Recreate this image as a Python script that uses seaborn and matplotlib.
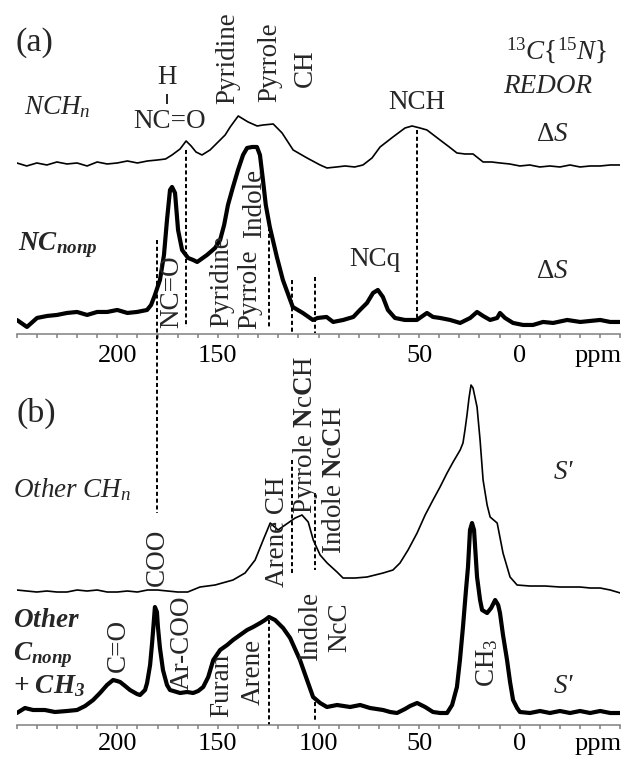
import matplotlib
matplotlib.use("Agg")
import matplotlib.pyplot as plt
from matplotlib.ticker import MultipleLocator
import seaborn as sns

# --- panel (a): 13C{15N} REDOR difference spectra (heights in px above the axis) ---
nchn_ppm = [249.9, 245, 240, 235, 230, 225, 220, 215, 210, 205,
            200, 195, 190, 185, 180, 176, 172.8, 168.8, 165.8, 163.3,
            160.9, 157.9, 153.9, 150.4, 146.4, 143.9, 139.9, 135.0, 130.5, 127.5,
            122.5, 118.1, 112.6, 105.7, 99.2, 95.8, 91, 86.8, 82, 77.9,
            73.4, 69.4, 63.0, 57.0, 53.5, 49.6, 46.1, 39.6, 35, 31.2,
            27.2, 23.2, 18.2, 14, 9.8, 5, -0.1, -5, -10, -15,
            -20, -25, -30, -35, -40, -45, -50]
nchn_int = [171, 168, 171, 169, 172, 170, 171, 168, 172, 170,
            171, 173, 171, 173, 174, 175, 179, 185, 193, 188,
            182, 179, 184, 191, 199, 207, 218, 212, 208, 209,
            210, 201, 184, 176, 169, 166, 167, 168, 167, 169,
            176, 187, 197, 206, 208, 206, 204, 194, 187, 181,
            180, 180, 172, 172, 171, 170, 168, 169, 167, 168,
            167, 169, 167, 168, 168, 169, 169]

ncnonp_ppm = [249.9, 244.9, 239.9, 234.9, 230, 225, 220, 215, 210, 205,
              200, 195, 190.2, 185.2, 183.2, 181.3, 178.8, 176.8, 175.3, 173.8,
              172.8, 171.3, 169.8, 167.8, 164.8, 162.3, 160.3, 155.4, 151.4, 148.9,
              146.9, 145.0, 142.5, 140.0, 137.5, 135.5, 133.0, 130.6, 129.1, 127.6,
              126.2, 124.2, 120.7, 117.7, 112.8, 107.8, 102.8, 100.4, 96, 92.7,
              87.7, 82.7, 79.4, 75.9, 72.9, 70.5, 68.0, 65.5, 62.0, 57.1,
              51.1, 46.1, 43.1, 39.6, 34.6, 29.6, 24.6, 21.2, 18.2, 14.7,
              11.2, 9.8, 7.3, 3.3, -1.7, -6.6, -11.6, -16.6, -23.6, -30.1,
              -35, -40, -45, -50]
ncnonp_int = [14, 7, 16, 18, 19, 21, 22, 19, 22, 22,
              24, 21, 22, 24, 29, 39, 54, 79, 114, 144,
              147, 141, 104, 84, 76, 74, 72, 79, 86, 94,
              109, 129, 147, 164, 179, 186, 187, 187, 179, 154,
              129, 107, 77, 54, 27, 21, 14, 16, 17, 12,
              14, 17, 24, 31, 41, 44, 37, 24, 16, 14,
              14, 21, 17, 16, 14, 11, 16, 22, 18, 14,
              16, 21, 16, 11, 9, 9, 12, 11, 14, 12,
              13, 14, 12, 12]

# --- panel (b): S' spectra ---
chn_ppm = [249.9, 245, 240, 235, 230, 225, 220, 215, 210, 205,
           200, 195, 190, 185, 180, 175, 170, 165, 158.9, 151.4,
           142.5, 136.5, 131.5, 127.5, 124.0, 120.1, 116.6, 111.6, 108.2, 105.1,
           102.6, 99.2, 95.7, 90.8, 87.8, 81.8, 75.9, 67.9, 63.0, 59.5,
           55.5, 51.0, 47.0, 43.1, 39.6, 36.1, 33.1, 29.6, 28.2, 27.2,
           26.2, 25.2, 24.2, 23.2, 21.2, 19.7, 18.2, 16.2, 14.7, 11.2,
           8.3, 4.8, 1.3, -5, -12.6, -20, -23.6, -30, -35, -40,
           -45, -50]
chn_int = [135, 134, 133, 134, 133, 133, 135, 134, 135, 133,
           133, 134, 133, 135, 135, 134, 133, 133, 138, 140,
           145, 152, 165, 185, 202, 195, 200, 207, 210, 203,
           185, 170, 162, 153, 147, 147, 148, 152, 155, 162,
           175, 192, 210, 225, 238, 252, 263, 275, 282, 295,
           310, 327, 340, 337, 318, 285, 245, 220, 208, 202,
           172, 148, 140, 139, 139, 138, 138, 138, 137, 137,
           135, 132]

cnonp_ppm = [249.9, 245.9, 241.9, 236.0, 231.0, 225.0, 220.0, 216.0, 212.0, 208.6,
             205.1, 202.1, 200.1, 198.6, 196.1, 193.7, 190.2, 188.7, 186.2, 185.2,
             183.7, 182.7, 181.8, 181.3, 180.3, 179.8, 178.8, 177.3, 175.3, 173.8,
             168.8, 165.3, 162.3, 159.8, 157.3, 154.8, 152.3, 148.9, 145.4, 142.5,
             139.0, 135.5, 132.5, 129.0, 126.6, 124.6, 121.6, 117.6, 114.1, 109.2,
             105.7, 102.7, 99.2, 95.8, 90.8, 84.3, 79.3, 74.4, 67.9, 64.4,
             61.0, 57.0, 54.5, 51.0, 47.0, 43.1, 39.6, 36.1, 33.6, 31.2,
             29.7, 28.2, 26.7, 25.7, 24.7, 23.7, 22.7, 21.2, 19.7, 18.7,
             16.2, 14.2, 12.2, 10.7, 9.8, 8.3, 6.3, 4.8, 3.3, 1.3,
             -0.1, -5.1, -10.1, -15, -20, -25, -30, -35, -40, -45, -50]
cnonp_int = [12, 17, 15, 15, 13, 14, 15, 19, 25, 32,
             40, 45, 44, 43, 39, 35, 31, 30, 35, 42,
             60, 82, 105, 118, 113, 98, 77, 55, 40, 35,
             32, 33, 32, 34, 38, 48, 65, 75, 80, 85,
             90, 95, 98, 102, 105, 108, 105, 97, 87, 65,
             45, 28, 22, 18, 20, 18, 20, 17, 15, 13,
             12, 16, 19, 22, 18, 13, 12, 12, 20, 38,
             65, 98, 135, 158, 195, 202, 195, 148, 125, 115,
             112, 117, 125, 120, 112, 90, 65, 43, 25, 17,
             13, 12, 14, 12, 14, 12, 14, 12, 14, 12, 12]

# panel (a) leaves out "100": the Pyrrole NcCH label of (b) sits there
tick_ppm_a = [200, 150, 50, 0]
tick_labels_a = ["200", "150", "50", "0"]
tick_ppm_b = [200, 150, 100, 50, 0]
tick_labels_b = ["200", "150", "100", "50", "0"]

sns.set_theme(style="white")
plt.rcParams["font.family"] = ["Liberation Serif", "DejaVu Serif"]
plt.rcParams["mathtext.fontset"] = "custom"
plt.rcParams["mathtext.rm"] = "Liberation Serif"
plt.rcParams["mathtext.it"] = "Liberation Serif:italic"
plt.rcParams["mathtext.bf"] = "Liberation Serif:italic:bold"
plt.rcParams["mathtext.sf"] = "Liberation Serif:bold"

FS = 19.5
TICK_FS = 19
DASH = (0, (2.1, 1.4))

fig = plt.figure(figsize=(6.25, 7.59), dpi=100)
ax_a = fig.add_axes([0.0267, 0.56, 0.9658, 0.44])
ax_b = fig.add_axes([0.0267, 0.0448, 0.9658, 0.5072])


def setup(ax, top, ticks, labels, pad):
    ax.set_xlim(250, -50)
    ax.set_ylim(0, top)
    sns.despine(ax=ax, left=True)
    ax.spines["bottom"].set_color("#808080")
    ax.spines["bottom"].set_linewidth(1.1)
    ax.set_yticks([])
    ax.set_xticks(ticks + [-39], labels + ["ppm"])
    ax.xaxis.set_minor_locator(MultipleLocator(10))
    ax.tick_params(axis="x", which="both", bottom=True, direction="out", length=3,
                   width=1.1, color="#808080", labelsize=TICK_FS, labelcolor="black", pad=pad)
    ax.xaxis.get_major_ticks()[-1].tick1line.set_visible(False)
    ax.set_xlabel("")
    ax.set_ylabel("")
    ax.patch.set_alpha(0)


def guide(ax, ppm, y0, y1):
    ax.vlines(ppm, y0, y1, colors="black", linestyles=DASH, lw=1.4, clip_on=False)


def vtext(ax, x, y, s, **kw):
    ax.text(x, y, s, rotation=90, ha="center", va="center", fontsize=FS, **kw)


# panel (a)
sns.lineplot(x=nchn_ppm, y=nchn_int, ax=ax_a, color="black", lw=1.2, estimator=None, sort=False)
sns.lineplot(x=ncnonp_ppm, y=ncnonp_int, ax=ax_a, color="black", lw=3.0, estimator=None, sort=False)
setup(ax_a, 334, tick_ppm_a, tick_labels_a, 5)

guide(ax_a, 165.8, 184, 7)
guide(ax_a, 180.4, 94, -179)
guide(ax_a, 124.5, 107, 7)
guide(ax_a, 113, 54, 1)
guide(ax_a, 101.5, 57, 1)
guide(ax_a, 51, 204, 14)

ax_a.text(241.4, 291, "(a)", fontsize=FS + 5, ha="center", va="center")
ax_a.text(230, 227, r"$NCH_n$", fontsize=FS, ha="center", va="center")
ax_a.text(175.3, 256, "H", fontsize=FS, ha="center", va="center")
ax_a.vlines(175.3, 230, 240, colors="black", lw=1.2)
ax_a.text(174.2, 212, "NC=O", fontsize=FS, ha="center", va="center")
vtext(ax_a, 145, 276, "Pyridine")
vtext(ax_a, 124, 272, "Pyrrole")
vtext(ax_a, 106.7, 266, "CH")
ax_a.text(51, 231, "NCH", fontsize=FS, ha="center", va="center")
ax_a.text(-18.6, 284, r"$^{\mathit{13}}C\{^{\mathit{15}}N\}$", fontsize=FS, ha="center", va="center")
ax_a.text(-14.1, 247, "REDOR", fontsize=FS, style="italic", ha="center", va="center")
ax_a.text(-16.1, 199, r"$\Delta S$", fontsize=FS, ha="center", va="center")
ax_a.text(249.5, 89, r"$\mathbf{NC}_{\mathbf{nonp}}$", fontsize=FS, ha="left", va="center")
vtext(ax_a, 172.8, 42, "NC=O")
vtext(ax_a, 147.9, 53, "Pyridine")
vtext(ax_a, 134, 45, "Pyrrole")
vtext(ax_a, 132, 131, "Indole")
ax_a.text(71.8, 74, "NCq", fontsize=FS, ha="center", va="center")
ax_a.text(-16.1, 62, r"$\Delta S$", fontsize=FS, ha="center", va="center")

# panel (b)
sns.lineplot(x=chn_ppm, y=chn_int, ax=ax_b, color="black", lw=1.2, estimator=None, sort=False)
sns.lineplot(x=cnonp_ppm, y=cnonp_int, ax=ax_b, color="black", lw=3.0, estimator=None, sort=False)
setup(ax_b, 385, tick_ppm_b, tick_labels_b, 3)

guide(ax_b, 113, 265, 152)
guide(ax_b, 101.5, 232, 155)
guide(ax_b, 101.5, 23, 3)
guide(ax_b, 124.5, 105, 0)

ax_b.text(240.4, 312, "(b)", fontsize=FS + 5, ha="center", va="center")
ax_b.text(222.5, 235, r"$Other\ CH_n$", fontsize=FS, ha="center", va="center")
vtext(ax_b, 180.3, 168, "COO")
vtext(ax_b, 120.2, 193, "Arene CH")
vtext(ax_b, 106.7, 290, r"Pyrrole $\mathsf{N}$c$\mathsf{C}$H")
vtext(ax_b, 91.8, 245, r"Indole $\mathsf{N}$c$\mathsf{C}$H")
ax_b.text(-21.5, 253, "S'", fontsize=FS, style="italic", ha="center", va="center")
ax_b.text(251.8, 105, r"$\mathbf{Other}$", fontsize=FS, ha="left", va="center")
ax_b.text(251.8, 70, r"$\mathbf{C}_{\mathbf{nonp}}$", fontsize=FS, ha="left", va="center")
ax_b.text(251.8, 39, r"$\mathbf{+\ CH}_{\mathbf{3}}$", fontsize=FS, ha="left", va="center")
vtext(ax_b, 199.6, 80, "C=O")
vtext(ax_b, 167.8, 82, "Ar-COO")
vtext(ax_b, 147.9, 40, "Furan")
vtext(ax_b, 132.5, 53, "Arene")
vtext(ax_b, 104, 99, "Indole")
vtext(ax_b, 89.3, 98, "NcC")
vtext(ax_b, 16.4, 62, r"CH$_3$")
ax_b.text(-21.5, 39, "S'", fontsize=FS, style="italic", ha="center", va="center")

fig.savefig("out.png", dpi=100)
